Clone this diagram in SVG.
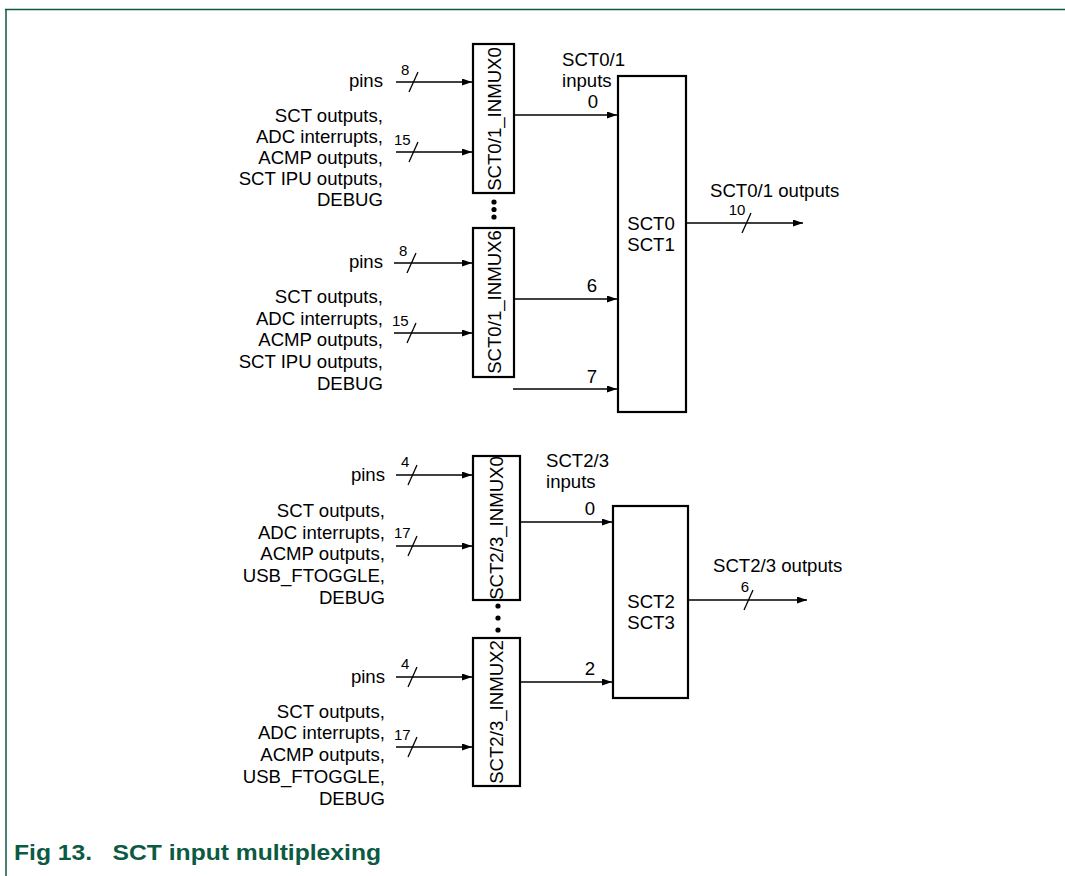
<svg xmlns="http://www.w3.org/2000/svg" width="1065" height="876" viewBox="0 0 1065 876">
<defs>
<style>
.t{font-family:"Liberation Sans",Arial,sans-serif;font-size:18.6px;fill:#000}
.s{font-family:"Liberation Sans",Arial,sans-serif;font-size:15px;fill:#000}
.r{text-anchor:end}
.m{text-anchor:middle}
.box{fill:#fff;stroke:#000;stroke-width:2.2}
.ln{fill:none;stroke:#000;stroke-width:1.3}
.ar{fill:none;stroke:#000;stroke-width:1.3;marker-end:url(#ah)}
.title{font-family:"Liberation Sans",Arial,sans-serif;font-size:22px;font-weight:bold;fill:#0d5a43}
</style>
<marker id="ah" markerUnits="userSpaceOnUse" markerWidth="11" markerHeight="8" refX="10" refY="3.5" orient="auto">
<path d="M0,0 L10,3.5 L0,7 z" fill="#000"/>
</marker>
</defs>
<rect width="1065" height="876" fill="#fff"/>
<g id="frame">
<path d="M5,9.5 H1065 M6,9 V876" fill="none" stroke="#0d5a43" stroke-width="1.5"/>
<text class="title" x="14" y="860" xml:space="preserve" textLength="367" lengthAdjust="spacingAndGlyphs">Fig 13.   SCT input multiplexing</text>
</g>

<g id="connectors">
<path class="ar" d="M396,82 H472"/>
<path class="ln" d="M409,92 L418,72"/>
<text class="s" x="401" y="75">8</text>
<path class="ar" d="M396,152 H472"/>
<path class="ln" d="M409,162 L418,142"/>
<text class="s" x="394" y="145">15</text>
<path class="ar" d="M514,115 H617"/>
<path class="ar" d="M394,263 H472"/>
<path class="ln" d="M407,273 L416,253"/>
<text class="s" x="399" y="256">8</text>
<path class="ar" d="M394,333 H472"/>
<path class="ln" d="M407,343 L416,323"/>
<text class="s" x="392" y="326">15</text>
<path class="ar" d="M514,299 H617"/>
<path class="ar" d="M513,389 H617"/>
<path class="ar" d="M686,223 H803"/>
<path class="ln" d="M742,233 L751,213"/>
<text class="s m" x="737" y="215">10</text>

<path class="ar" d="M396,475 H472"/>
<path class="ln" d="M408,485 L417,465"/>
<text class="s" x="401" y="467">4</text>
<path class="ar" d="M396,546 H472"/>
<path class="ln" d="M408,556 L417,536"/>
<text class="s" x="394" y="538">17</text>
<path class="ar" d="M520,522 H612"/>
<path class="ar" d="M396,677 H472"/>
<path class="ln" d="M408,687 L417,667"/>
<text class="s" x="401" y="669">4</text>
<path class="ar" d="M396,747 H472"/>
<path class="ln" d="M408,757 L417,737"/>
<text class="s" x="394" y="740">17</text>
<path class="ar" d="M520,682 H612"/>
<path class="ar" d="M688,600 H807"/>
<path class="ln" d="M744,610 L753,590"/>
<text class="s m" x="745" y="592">6</text>
</g>

<g id="labels-top">
<text class="t r" x="383" y="87">pins</text>
<text class="t r" x="383" y="122">SCT outputs,</text>
<text class="t r" x="383" y="143">ADC interrupts,</text>
<text class="t r" x="383" y="164">ACMP outputs,</text>
<text class="t r" x="383" y="185">SCT IPU outputs,</text>
<text class="t r" x="383" y="206">DEBUG</text>
<text class="t r" x="383" y="268">pins</text>
<text class="t r" x="383" y="303">SCT outputs,</text>
<text class="t r" x="383" y="325">ADC interrupts,</text>
<text class="t r" x="383" y="346">ACMP outputs,</text>
<text class="t r" x="383" y="368">SCT IPU outputs,</text>
<text class="t r" x="383" y="390">DEBUG</text>
<text class="t" x="562" y="66">SCT0/1</text>
<text class="t" x="562" y="87">inputs</text>
<text class="t m" x="593" y="108">0</text>
<text class="t m" x="592" y="292">6</text>
<text class="t m" x="592" y="383">7</text>
<text class="t" x="710" y="197">SCT0/1 outputs</text>
</g>

<g id="labels-bottom">
<text class="t r" x="385" y="481">pins</text>
<text class="t r" x="385" y="517">SCT outputs,</text>
<text class="t r" x="385" y="539">ADC interrupts,</text>
<text class="t r" x="385" y="560">ACMP outputs,</text>
<text class="t r" x="385" y="582">USB_FTOGGLE,</text>
<text class="t r" x="385" y="604">DEBUG</text>
<text class="t r" x="385" y="683">pins</text>
<text class="t r" x="385" y="718">SCT outputs,</text>
<text class="t r" x="385" y="739">ADC interrupts,</text>
<text class="t r" x="385" y="761">ACMP outputs,</text>
<text class="t r" x="385" y="783">USB_FTOGGLE,</text>
<text class="t r" x="385" y="805">DEBUG</text>
<text class="t" x="546" y="467">SCT2/3</text>
<text class="t" x="546" y="488">inputs</text>
<text class="t m" x="590" y="515">0</text>
<text class="t m" x="590" y="675">2</text>
<text class="t" x="713" y="572">SCT2/3 outputs</text>
</g>

<g id="mux01-0">
<rect class="box" x="473" y="44" width="41" height="149"/>
<text class="t m" transform="translate(501,119) rotate(-90)">SCT0/1_INMUX0</text>
</g>
<g id="dots-top">
<circle cx="494" cy="202" r="2.6"/>
<circle cx="494" cy="209.5" r="2.6"/>
<circle cx="494" cy="217" r="2.6"/>
</g>
<g id="mux01-6">
<rect class="box" x="473" y="228" width="41" height="149"/>
<text class="t m" transform="translate(501,302) rotate(-90)">SCT0/1_INMUX6</text>
</g>
<g id="sct01">
<rect class="box" x="618" y="76" width="68" height="336"/>
<text class="t m" x="651" y="230">SCT0</text>
<text class="t m" x="651" y="251">SCT1</text>
</g>

<g id="mux23-0">
<rect class="box" x="473" y="456" width="47" height="144"/>
<text class="t m" transform="translate(503,528) rotate(-90)">SCT2/3_INMUX0</text>
</g>
<g id="dots-bottom">
<circle cx="498" cy="606" r="2.6"/>
<circle cx="498" cy="618" r="2.6"/>
<circle cx="498" cy="630" r="2.6"/>
</g>
<g id="mux23-2">
<rect class="box" x="473" y="638" width="47" height="148"/>
<text class="t m" transform="translate(503,712) rotate(-90)">SCT2/3_INMUX2</text>
</g>
<g id="sct23">
<rect class="box" x="613" y="506" width="75" height="192"/>
<text class="t m" x="651" y="608">SCT2</text>
<text class="t m" x="651" y="629">SCT3</text>
</g>
</svg>
